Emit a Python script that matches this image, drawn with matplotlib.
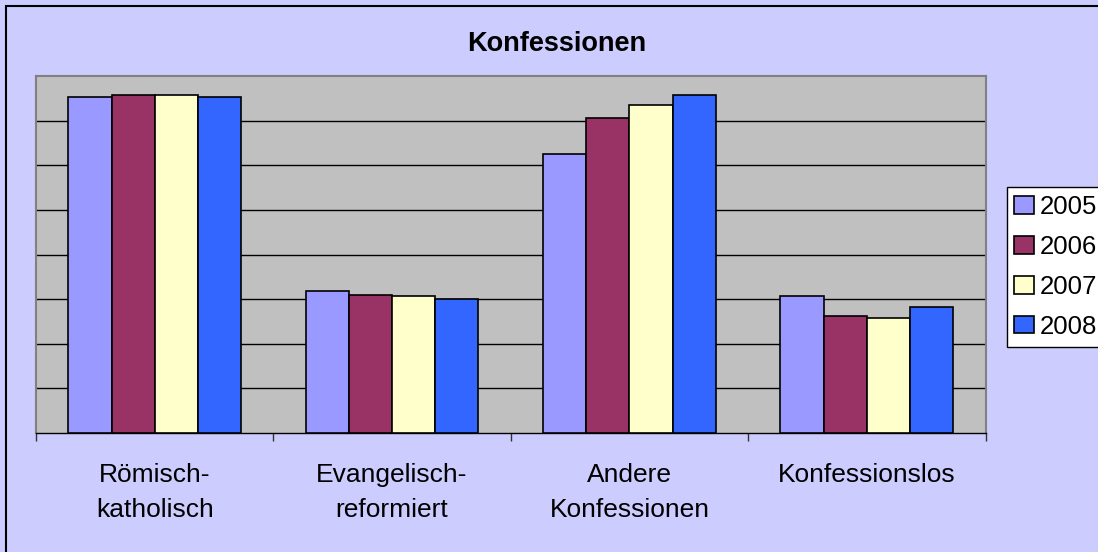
import matplotlib
matplotlib.use("Agg")
import matplotlib.pyplot as plt
import numpy as np
from matplotlib.patches import Rectangle

plt.rcParams['font.family'] = ['Liberation Sans', 'DejaVu Sans']

title = "Konfessionen"
categories = ["Römisch-\nkatholisch", "Evangelisch-\nreformiert", "Andere\nKonfessionen", "Konfessionslos"]
years = ["2005", "2006", "2007", "2008"]
v2005 = [37.7, 15.9, 31.3, 15.3]
v2006 = [37.9, 15.5, 35.3, 13.1]
v2007 = [37.9, 15.3, 36.8, 12.9]
v2008 = [37.7, 15.0, 37.9, 14.1]
series = [v2005, v2006, v2007, v2008]
colors = ["#9999FF", "#993366", "#FFFFCC", "#3366FF"]

W, H = 1098, 552
fig = plt.figure(figsize=(W / 100, H / 100), dpi=100)
fig.patch.set_facecolor("#CCCCFF")

ax = fig.add_axes([36 / W, 1 - 433 / H, (985.5 - 36) / W, (433 - 76) / H])
ax.set_facecolor("#C0C0C0")

x = np.arange(len(categories))
bw = 1 / 5.5
for i, (vals, col, yr) in enumerate(zip(series, colors, years)):
    ax.bar(x + (i - 1.5) * bw, vals, width=bw, color=col, edgecolor="black",
           linewidth=1.2, label=yr, zorder=3)

ax.set_xlim(-0.5, len(categories) - 0.5)
ax.set_ylim(0, 40)
ax.set_yticks(np.arange(5, 40, 5))
ax.yaxis.grid(True, color="black", linewidth=1.0, zorder=1)
ax.set_axisbelow(True)
ax.tick_params(axis="y", length=0, labelleft=False)

ax.set_xticks(np.arange(-0.5, len(categories), 1.0))
ax.set_xticklabels([])
ax.set_xticks(x, minor=True)
ax.set_xticklabels(categories, minor=True, fontsize=19, linespacing=1.6)
ax.tick_params(axis="x", which="major", direction="out", length=6, width=1, color="#333333")
ax.tick_params(axis="x", which="minor", length=0, pad=21.5)

for s in ["left", "right", "top"]:
    ax.spines[s].set_color("#808080")
    ax.spines[s].set_linewidth(1.5)
ax.spines["bottom"].set_color("black")
ax.spines["bottom"].set_linewidth(1.0)

fig.text(556.5 / W, 1 - 50.7 / H, title, ha="center", va="baseline",
         fontsize=19.5, fontweight="bold")

leg = fig.legend(loc="upper left", bbox_to_anchor=(1006.7 / W, 1 - 187.3 / H),
                 bbox_transform=fig.transFigure, fontsize=18.5, frameon=True,
                 fancybox=False, edgecolor="black", facecolor="white",
                 framealpha=1, borderpad=0.3, labelspacing=0.62,
                 handlelength=0.78, handleheight=0.66, handletextpad=0.2,
                 borderaxespad=0)
leg.get_frame().set_linewidth(1.0)

fig.patches.append(Rectangle((6 / W, -0.1), 1.2, 1 - 6 / H + 0.1,
                             transform=fig.transFigure, fill=False,
                             edgecolor="black", linewidth=1.5))

fig.savefig("out.png", dpi=100, facecolor=fig.get_facecolor())
